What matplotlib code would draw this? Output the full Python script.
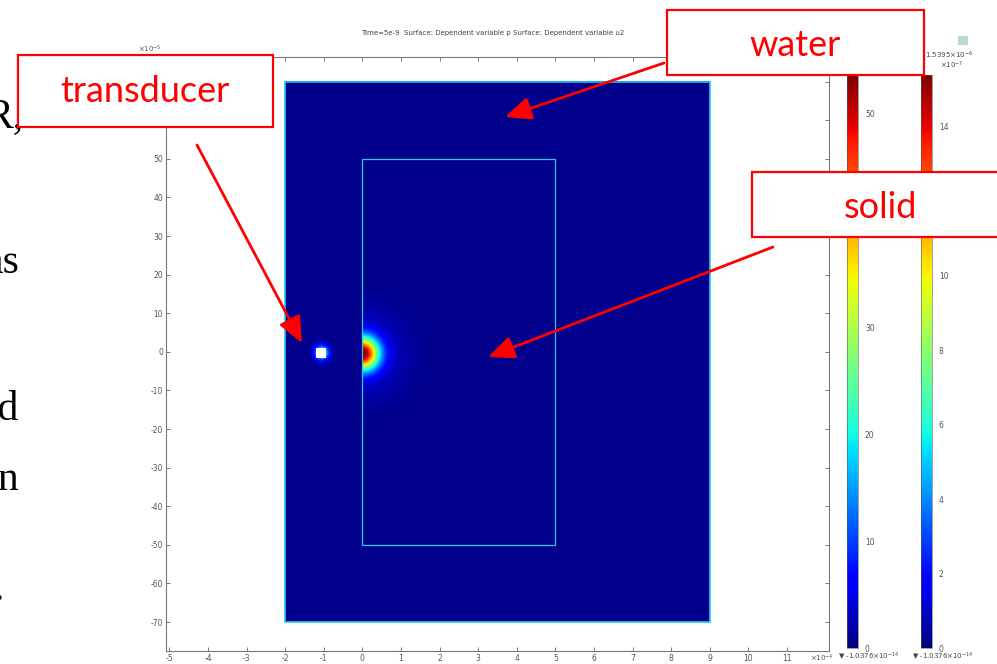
"""COMSOL-style snapshot of the acoustic field (transducer / water / solid), slide crop."""
import numpy as np
import matplotlib
matplotlib.use("Agg")
import matplotlib.pyplot as plt
from matplotlib.patches import Rectangle, FancyArrowPatch
from matplotlib.colors import Normalize
from matplotlib.cm import ScalarMappable

plt.rcParams["axes.unicode_minus"] = False

W, H = 997, 664

# geometry: x in units of 1e-4, y in units of 1e-5
WATER_X = [-2, 9]
WATER_Y = [-70, 70]
SOLID_X = [0, 5]
SOLID_Y = [-50, 50]
X_TICKS = list(range(-5, 12))
Y_TICKS = list(range(-70, 71, 10))

# field hot spots (x, y, relative amplitude, width in x-units)
SPOT_X = [0.0, 0.0, -1.05]
SPOT_Y = [-0.5, -0.5, -0.3]
SPOT_AMP = [0.95, 0.09, 0.45]
SPOT_SIGMA = [0.29, 0.7, 0.13]
SPOT_SOLID_ONLY = [True, True, False]

# colour legends
CB1_MAX = 53.6
CB1_TICKS = [0, 10, 20, 30, 40, 50]
CB2_MAX = 15.395
CB2_TICKS = [0, 2, 4, 6, 8, 10, 14]
CB2_TOP = ["1.5395×10$^{-6}$", "×10$^{-7}$"]
CB_MIN = "▼ -1.0376×10$^{-14}$"

TITLE = "Time=5e-9  Surface: Dependent variable p Surface: Dependent variable u2"
LABELS = ["transducer", "water", "solid"]
SLIDE_TEXT = ["R,", "as", "ed", "on", "."]


def fx(x):
    return x / W


def fy(y):
    return 1 - y / H


fig = plt.figure(figsize=(W / 100, H / 100), dpi=100)

# ---- main field axes ------------------------------------------------------
ax = fig.add_axes([fx(166), fy(651), (829 - 166) / W, (651 - 57) / H])
ax.set_xlim(-5.09, 12.09)
ax.set_ylim(-77.5, 76.4)

xg = np.linspace(WATER_X[0], WATER_X[1], 1101)
yg = np.linspace(WATER_Y[0], WATER_Y[1], 1401)
X, Y = np.meshgrid(xg, yg)
field = np.zeros_like(X)
for x0, y0, a, s, solid in zip(SPOT_X, SPOT_Y, SPOT_AMP, SPOT_SIGMA, SPOT_SOLID_ONLY):
    g = a * np.exp(-((X - x0) ** 2 + ((Y - y0) / 10) ** 2) / (2 * s ** 2))
    if solid:
        g = np.where(X >= 0, g, 0)
    field += g
ax.imshow(field, extent=[*WATER_X, *WATER_Y], origin="lower", cmap="jet",
          vmin=-0.012, vmax=1, aspect="auto", interpolation="bilinear", zorder=1)
ax.add_patch(Rectangle((WATER_X[0], WATER_Y[0]), WATER_X[1] - WATER_X[0],
                       WATER_Y[1] - WATER_Y[0], fill=False, ec="#22c8f0", lw=1.2, zorder=3))
ax.add_patch(Rectangle((SOLID_X[0], SOLID_Y[0]), SOLID_X[1] - SOLID_X[0],
                       SOLID_Y[1] - SOLID_Y[0], fill=False, ec="#2cc8ee", lw=0.9, zorder=3))
# saturated transducer spot
ax.add_patch(Rectangle((-1.2, -1.6), 0.25, 2.5, fc="white", ec="none", zorder=2))

ax.set_xticks(X_TICKS)
ax.set_yticks(Y_TICKS)
ax.tick_params(direction="in", length=3, width=0.6, color="#666", labelsize=5.5,
               labelcolor="#555", top=True, right=True, pad=2)
for sp in ax.spines.values():
    sp.set_color("#777")
    sp.set_linewidth(0.8)
fig.text(fx(810), fy(658), "×10$^{-4}$", fontsize=5, color="#555", va="center")
fig.text(fx(138), fy(49), "×10$^{-5}$", fontsize=5, color="#555", va="center")
fig.text(fx(361), fy(33), TITLE, fontsize=5, color="#444", va="center")

# ---- colour legends -------------------------------------------------------
cmap = plt.get_cmap("jet")
for left, vmax, ticks in ((847, CB1_MAX, CB1_TICKS), (921, CB2_MAX, CB2_TICKS)):
    cax = fig.add_axes([fx(left), fy(648), 11 / W, (648 - 75) / H])
    cb = fig.colorbar(ScalarMappable(Normalize(0, vmax), cmap), cax=cax, ticks=ticks)
    cb.outline.set_linewidth(0.4)
    cb.outline.set_edgecolor("#555")
    cax.tick_params(length=0, labelsize=5.5, labelcolor="#555", pad=5)
fig.text(fx(838), fy(657), CB_MIN, fontsize=5, color="#444", va="center")
fig.text(fx(912), fy(657), CB_MIN, fontsize=5, color="#444", va="center")
fig.text(fx(925), fy(55), CB2_TOP[0], fontsize=5, color="#444", va="center")
fig.text(fx(940), fy(65), CB2_TOP[1], fontsize=5, color="#444", va="center")
fig.add_artist(Rectangle((fx(958), fy(45)), 10 / W, 9 / H, transform=fig.transFigure,
                         fc="#b9d9d2", ec="none"))

# ---- slide text cut off at the left edge ----------------------------------
for txt, xr, yb in zip(SLIDE_TEXT, [24, 19, 19, 19, 4], [127, 273, 420, 490, 600]):
    fig.text(fx(xr), fy(yb), txt, fontsize=30, family="Liberation Serif",
             ha="right", va="baseline", color="black")

# ---- red call-out boxes and arrows ----------------------------------------
boxes = [(18, 55, 273, 127), (667, 10, 924, 75), (752, 172, 1010, 237)]
centres = [(145, 92), (795, 45), (880, 207)]
for label, (x0, y0, x1, y1), (cx, cy) in zip(LABELS, boxes, centres):
    fig.add_artist(Rectangle((fx(x0), fy(y1)), (x1 - x0) / W, (y1 - y0) / H,
                             transform=fig.transFigure, fc="white", ec="red",
                             lw=1.6, zorder=10))
    fig.text(fx(cx), fy(cy), label, fontsize=26, family="Lato", color="red",
             ha="center", va="center", zorder=11)

arrows = [((197, 145), (302, 343)), ((664, 63), (505, 117)), ((773, 247), (488, 357))]
for (xa, ya), (xb, yb) in arrows:
    fig.add_artist(FancyArrowPatch((fx(xa), fy(ya)), (fx(xb), fy(yb)),
                                   transform=fig.transFigure,
                                   arrowstyle="-|>,head_length=0.8,head_width=0.35",
                                   mutation_scale=20, color="red", lw=2.0,
                                   shrinkA=0, shrinkB=0, zorder=12))

fig.savefig("out.png", dpi=100)
